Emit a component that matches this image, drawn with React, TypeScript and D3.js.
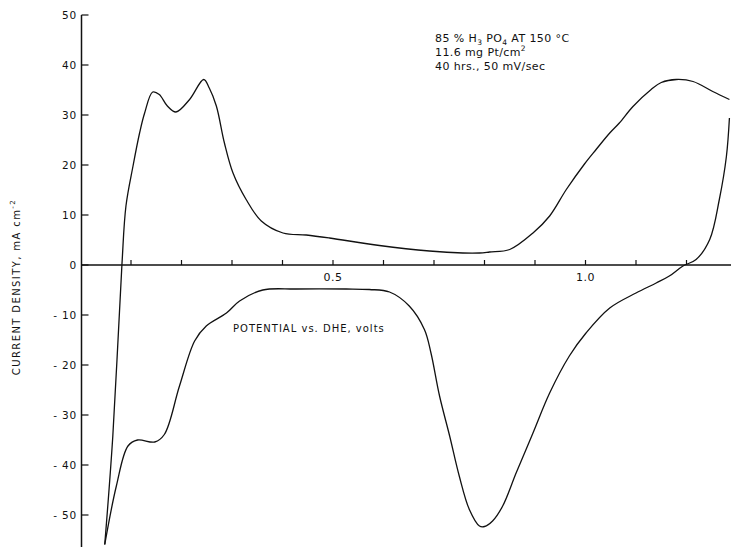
import React from 'react';
import * as d3 from 'd3';

// anodic sweep (upper branch): potential V, current mA/cm2
const anodicV = [0.048, 0.064, 0.082, 0.090, 0.104, 0.117, 0.127, 0.143, 0.156, 0.172, 0.189, 0.216, 0.244, 0.255, 0.269, 0.285, 0.302, 0.328, 0.358, 0.401, 0.447, 0.493, 0.592, 0.691, 0.757, 0.790, 0.810, 0.850, 0.896, 0.929, 0.962, 0.998, 1.021, 1.048, 1.067, 1.094, 1.130, 1.150, 1.180, 1.213, 1.252, 1.285];
const anodicI = [-55.9, -34.2, 0, 11.8, 19.8, 26.4, 30.4, 34.6, 34.1, 31.8, 30.6, 33.1, 37.1, 35.4, 31.8, 24.4, 18.4, 13.1, 8.8, 6.4, 6.0, 5.4, 3.9, 2.8, 2.4, 2.4, 2.6, 3.1, 6.4, 9.8, 15.1, 20.2, 23.1, 26.4, 28.4, 31.7, 35.1, 36.5, 37.1, 36.7, 34.7, 33.1];

// cathodic sweep (lower branch), from the right edge back to the vertex
const cathodicV = [1.285, 1.279, 1.265, 1.246, 1.219, 1.193, 1.166, 1.140, 1.100, 1.048, 1.001, 0.968, 0.929, 0.896, 0.863, 0.836, 0.816, 0.800, 0.790, 0.770, 0.750, 0.731, 0.711, 0.694, 0.681, 0.651, 0.612, 0.572, 0.526, 0.427, 0.361, 0.315, 0.289, 0.249, 0.226, 0.196, 0.166, 0.147, 0.113, 0.094, 0.071, 0.048];
const cathodicI = [29.4, 21.7, 13.1, 5.1, 1.1, -0.2, -2.2, -3.6, -5.6, -8.6, -13.6, -18.2, -25.6, -33.6, -41.5, -48.2, -51.2, -52.3, -52.2, -48.9, -42.2, -34.2, -26.2, -17.6, -12.9, -8.2, -5.4, -4.9, -4.8, -4.8, -5.0, -7.2, -9.6, -12.2, -15.2, -24.2, -33.9, -35.4, -35.0, -36.2, -44.2, -55.9];

const xTickValues = [0.1, 0.2, 0.3, 0.4, 0.5, 0.6, 0.7, 0.8, 0.9, 1.0, 1.1, 1.2];
const xTickLabels = [{ v: 0.5, text: '0.5' }, { v: 1.0, text: '1.0' }];
const yTickValues = [50, 40, 30, 20, 10, 0, -10, -20, -30, -40, -50];
const yTickLabels = ['50', '40', '30', '20', '10', '0', '- 10', '- 20', '- 30', '- 40', '- 50'];

const W = 731;
const H = 547;
const font = '"DejaVu Sans", Arial, sans-serif';
const ink = '#111';

const App: React.FC = () => {
  const x = d3.scaleLinear().domain([0, 1.29]).range([80.5, 80.5 + 1.29 * 505]);
  const y = d3.scaleLinear().domain([-56.6, 50]).range([548, 15]);

  const line = d3.line<[number, number]>()
    .x(d => x(d[0]))
    .y(d => y(d[1]))
    .curve(d3.curveCatmullRom.alpha(0.5));

  const anodic = anodicV.map((v, i) => [v, anodicI[i]] as [number, number]);
  const cathodic = cathodicV.map((v, i) => [v, cathodicI[i]] as [number, number]);

  const x0 = x(0) + 1;
  const y0 = y(0);

  return (
    <svg width={W} height={H} style={{ position: 'absolute', left: 0, top: 0, background: '#fff' }}>
      {/* axes */}
      <line x1={x0} x2={x0} y1={y(50)} y2={H} stroke={ink} strokeWidth={1.5} />
      <line x1={x0} x2={W} y1={y0} y2={y0} stroke={ink} strokeWidth={1.4} />

      {yTickValues.map((t, i) => (
        <g key={t}>
          <line x1={x0} x2={x0 + 7} y1={y(t)} y2={y(t)} stroke={ink} strokeWidth={1.2} />
          <text x={77} y={y(t) + 4} textAnchor="end" fontFamily={font} fontSize={10.5} letterSpacing={0.8} fill={ink}>
            {yTickLabels[i]}
          </text>
        </g>
      ))}

      {xTickValues.map(t => (
        <line key={t} x1={x(t)} x2={x(t)} y1={y0} y2={y0 - 5} stroke={ink} strokeWidth={1.2} />
      ))}
      {xTickLabels.map(d => (
        <text key={d.text} x={x(d.v)} y={281} textAnchor="middle" fontFamily={font} fontSize={11} letterSpacing={0.5} fill={ink}>
          {d.text}
        </text>
      ))}

      {/* curves */}
      <path d={line(anodic) || ''} fill="none" stroke={ink} strokeWidth={1.3} />
      <path d={line(cathodic) || ''} fill="none" stroke={ink} strokeWidth={1.3} />

      {/* axis titles */}
      <text x={233} y={332} fontFamily={font} fontSize={10} letterSpacing={1} fill={ink}>
        POTENTIAL  vs. DHE, volts
      </text>
      <text transform="translate(20,287) rotate(-90)" textAnchor="middle" fontFamily={font} fontSize={10} letterSpacing={1.4} fill={ink}>
        CURRENT  DENSITY, mA  cm<tspan fontSize={7} dy={-5}>-2</tspan>
      </text>

      {/* annotation */}
      <g fontFamily={font} fontSize={11} fill={ink} letterSpacing={0.4}>
        <text x={435} y={42}>
          85 % H<tspan fontSize={7.5} dy={3}>3</tspan><tspan dy={-3}> PO</tspan><tspan fontSize={7.5} dy={3}>4</tspan><tspan dy={-3}> AT 150 °C</tspan>
        </text>
        <text x={435} y={56}>
          11.6 mg Pt/cm<tspan fontSize={7.5} dy={-5}>2</tspan>
        </text>
        <text x={435} y={70}>40 hrs., 50 mV/sec</text>
      </g>
    </svg>
  );
};

export default App;
